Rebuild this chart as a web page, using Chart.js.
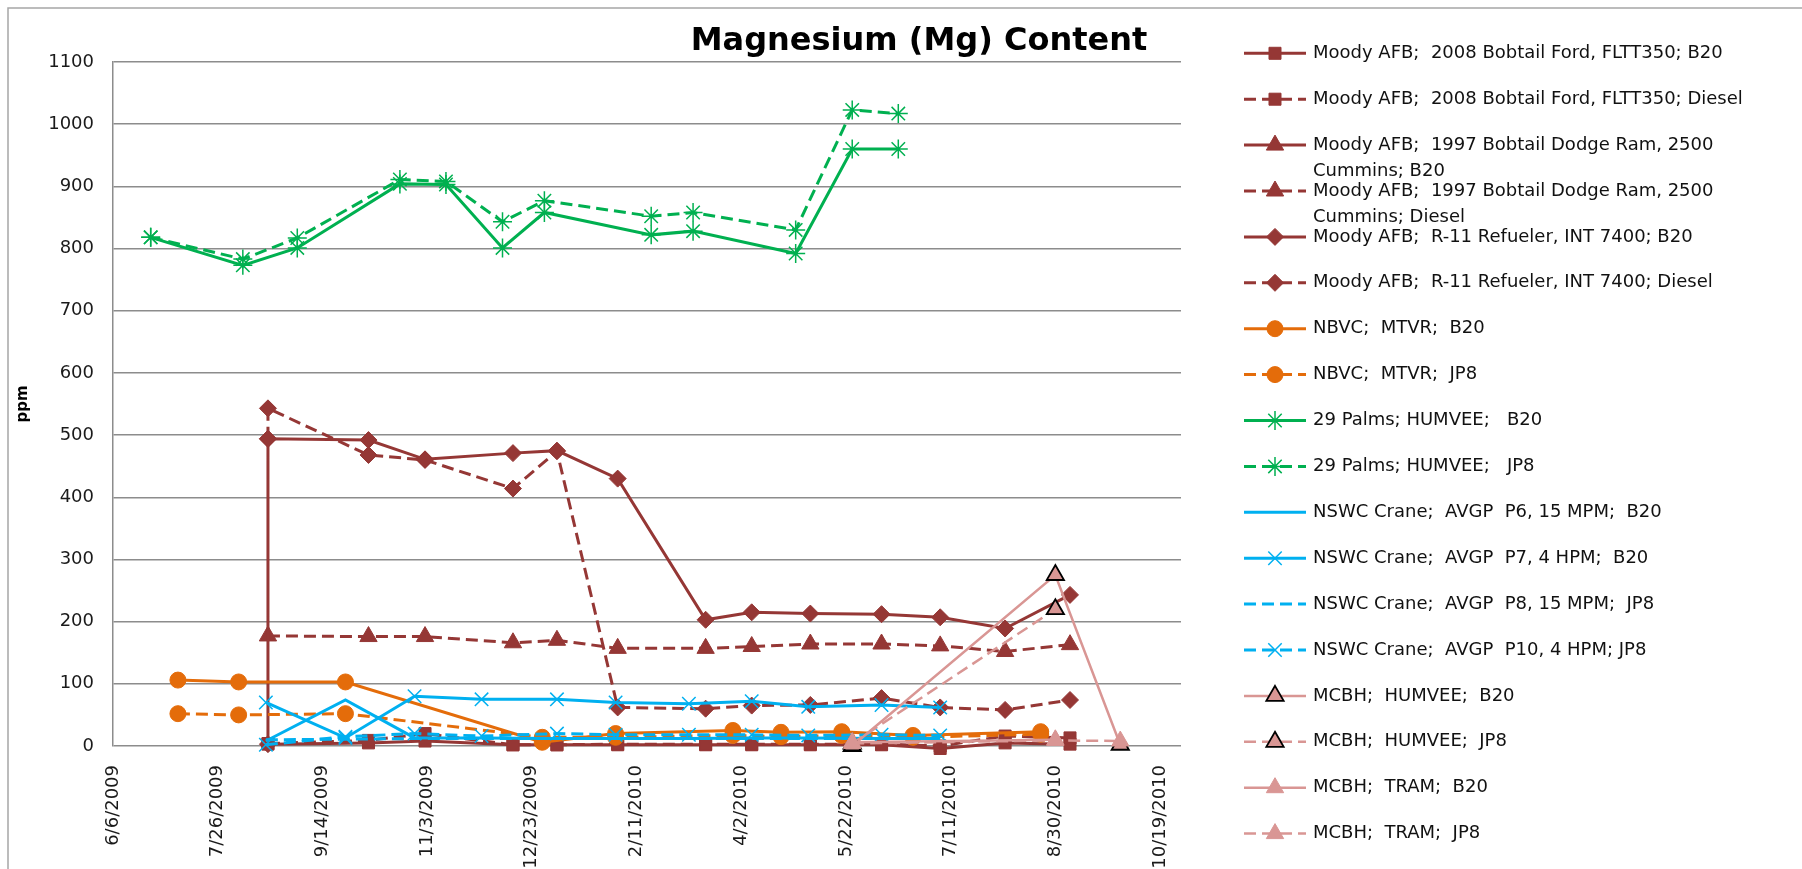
<!DOCTYPE html>
<html>
<head>
<meta charset="utf-8">
<title>Magnesium (Mg) Content</title>
<script src="https://cdn.jsdelivr.net/npm/chart.js"></script>
<style>
  html, body { margin: 0; padding: 0; background: #fff; }
  #chart { display: block; }
</style>
</head>
<body>
<canvas id="chart" width="1802" height="869"></canvas>
<script>
// Magnesium (Mg) content, ppm, by vehicle / fuel

const xTickLabels = ['6/6/2009', '7/26/2009', '9/14/2009', '11/3/2009', '12/23/2009', '2/11/2010',
    '4/2/2010', '5/22/2010', '7/11/2010', '8/30/2010', '10/19/2010'];
const xAxisEnd = '10/29/2010';

// Moody AFB sampling dates
const moodyDates = ['8/19/2009', '10/6/2009', '11/2/2009', '12/14/2009', '1/4/2010', '2/2/2010',
    '3/16/2010', '4/7/2010', '5/5/2010', '6/8/2010', '7/6/2010', '8/6/2010', '9/6/2010'];
const fordB20 = [3, 5, 8, 2, 2, 2, 2, 2, 2, 2, -4, 5, 3];
const fordDiesel = [4, 9, 20, 2, 2, 3, 3, 3, 3, 3, 0, 16, 13];
const dodgeB20 = [];
const dodgeDiesel = [177, 176, 176, 166, 170, 157, 157, 160, 164, 164, 161, 152, 163];
// R-11 rows have a repeated first date in the sheet
const r11Dates = ['8/19/2009'].concat(moodyDates);
const r11B20 = [3, 494, 492, 461, 471, 475, 430, 203, 215, 213, 212, 207, 189, 243];
const r11Diesel = [494, 543, 468, 460, 414, 474, 62, 60, 65, 66, 77, 62, 58, 74];

// NBVC
const nbvcDates = ['7/7/2009', '8/5/2009', '9/25/2009', '12/28/2009', '2/1/2010', '3/29/2010',
    '4/21/2010', '5/20/2010', '6/23/2010', '8/23/2010'];
const nbvcB20 = [106, 103, 103, 6, 20, 25, 22, 23, 17, 23];
const nbvcJP8 = [52, 50, 52, 14, 14, 17, 15, 17, 14, 19];

// 29 Palms
const palmsDates = ['6/24/2009', '8/7/2009', '9/2/2009', '10/21/2009', '11/12/2009', '12/9/2009',
    '12/29/2009', '2/18/2010', '3/10/2010', '4/28/2010', '5/25/2010', '6/16/2010'];
const palmsB20 = [818, 773, 801, 904, 903, 801, 858, 822, 828, 792, 960, 960];
const palmsJP8 = [818, 783, 817, 911, 908, 843, 877, 852, 858, 830, 1023, 1017];

// NSWC Crane
const craneDates = ['8/18/2009', '9/25/2009', '10/28/2009', '11/29/2009', '1/4/2010', '2/1/2010',
    '3/8/2010', '4/7/2010', '5/4/2010', '6/8/2010', '7/6/2010'];
const craneP6 = [8, 74, 13, 13, 12, 12, 12, 13, 13, 12, 12];
const craneP7 = [70, 13, 80, 75, 75, 70, 68, 72, 63, 66, 62];
const craneP8 = [10, 11, 12, 12, 12, 12, 12, 12, 12, 12, 12];
const craneP10 = [2, 15, 20, 16, 20, 18, 18, 18, 17, 18, 17];

// MCBH
const mcbhDates = ['5/25/2010', '8/30/2010', '9/30/2010'];
const humveeB20 = [0, 275, 2];
const humveeJP8 = [4, 220, null];
const tramB20 = [6, 10, null];
const tramJP8 = [4, 9, 8];

const legendLabels = [
    ['Moody AFB;  2008 Bobtail Ford, FLTT350; B20'],
    ['Moody AFB;  2008 Bobtail Ford, FLTT350; Diesel'],
    ['Moody AFB;  1997 Bobtail Dodge Ram, 2500', 'Cummins; B20'],
    ['Moody AFB;  1997 Bobtail Dodge Ram, 2500', 'Cummins; Diesel'],
    ['Moody AFB;  R-11 Refueler, INT 7400; B20'],
    ['Moody AFB;  R-11 Refueler, INT 7400; Diesel'],
    ['NBVC;  MTVR;  B20'],
    ['NBVC;  MTVR;  JP8'],
    ['29 Palms; HUMVEE;   B20'],
    ['29 Palms; HUMVEE;   JP8'],
    ['NSWC Crane;  AVGP  P6, 15 MPM;  B20'],
    ['NSWC Crane;  AVGP  P7, 4 HPM;  B20'],
    ['NSWC Crane;  AVGP  P8, 15 MPM;  JP8'],
    ['NSWC Crane;  AVGP  P10, 4 HPM; JP8'],
    ['MCBH;  HUMVEE;  B20'],
    ['MCBH;  HUMVEE;  JP8'],
    ['MCBH;  TRAM;  B20'],
    ['MCBH;  TRAM;  JP8'],
];

const moodyRed = '#953735';
const nbvcOrange = '#E46C0A';
const palmsGreen = '#00B050';
const craneBlue = '#00B0F0';
const mcbhPink = '#D99694';
const dash = [12, 6];
const FONT = "'DejaVu Sans', sans-serif";

const DAY0 = Date.UTC(2009, 5, 6);
function dayNum(s) {
    const [m, d, y] = s.split('/').map(Number);
    return (Date.UTC(y, m - 1, d) - DAY0) / 864e5;
}
function dayLabel(v) {
    const dt = new Date(DAY0 + v * 864e5);
    return `${dt.getUTCMonth() + 1}/${dt.getUTCDate()}/${dt.getUTCFullYear()}`;
}

function series(i, dates, values, color, style) {
    return Object.assign({
        label: legendLabels[i].join(' '),
        data: dates.map((d, k) => ({ x: dayNum(d), y: values[k] })),
        borderColor: color,
        borderWidth: 3,
        borderDash: [],
        pointBackgroundColor: color,
        pointBorderColor: color,
        pointBorderWidth: 1,
        pointRadius: 0,
        pointHoverRadius: 0,
        tension: 0,
        fill: false,
        clip: false,
        order: 20 - i,
    }, style);
}

const datasets = [
    series(0, moodyDates, fordB20, moodyRed, { pointStyle: 'rect', pointRadius: 8.5 }),
    series(1, moodyDates, fordDiesel, moodyRed, { pointStyle: 'rect', pointRadius: 8.5, borderDash: dash }),
    series(2, [], dodgeB20, moodyRed, { pointStyle: 'triangle', pointRadius: 10 }),
    series(3, moodyDates, dodgeDiesel, moodyRed, { pointStyle: 'triangle', pointRadius: 10, borderDash: dash }),
    series(4, r11Dates, r11B20, moodyRed, { pointStyle: 'rectRot', pointRadius: 8.5 }),
    series(5, r11Dates, r11Diesel, moodyRed, { pointStyle: 'rectRot', pointRadius: 8.5, borderDash: dash }),
    series(6, nbvcDates, nbvcB20, nbvcOrange, { pointStyle: 'circle', pointRadius: 8 }),
    series(7, nbvcDates, nbvcJP8, nbvcOrange, { pointStyle: 'circle', pointRadius: 8, borderDash: dash }),
    series(8, palmsDates, palmsB20, palmsGreen, { pointStyle: 'star', pointRadius: 9.5, pointBorderWidth: 1.5 }),
    series(9, palmsDates, palmsJP8, palmsGreen, { pointStyle: 'star', pointRadius: 9.5, pointBorderWidth: 1.5, borderDash: dash }),
    series(10, craneDates, craneP6, craneBlue, {}),
    series(11, craneDates, craneP7, craneBlue, { pointStyle: 'crossRot', pointRadius: 9.5, pointBorderWidth: 1.5 }),
    series(12, craneDates, craneP8, craneBlue, { borderDash: dash }),
    series(13, craneDates, craneP10, craneBlue, { pointStyle: 'crossRot', pointRadius: 9.5, pointBorderWidth: 1.5, borderDash: dash }),
    series(14, mcbhDates, humveeB20, mcbhPink, { borderWidth: 2.5, pointStyle: 'triangle', pointRadius: 10, pointBorderColor: '#000', pointBorderWidth: 1.8 }),
    series(15, mcbhDates, humveeJP8, mcbhPink, { borderWidth: 2.5, pointStyle: 'triangle', pointRadius: 10, pointBorderColor: '#000', pointBorderWidth: 1.8, borderDash: dash }),
    series(16, mcbhDates, tramB20, mcbhPink, { borderWidth: 2.5, pointStyle: 'triangle', pointRadius: 10 }),
    series(17, mcbhDates, tramJP8, mcbhPink, { borderWidth: 2.5, pointStyle: 'triangle', pointRadius: 10, borderDash: dash }),
];

// Excel-style frame, title and the side legend (wrapped entries)
const excelDecor = {
    id: 'excelDecor',
    beforeDraw(chart) {
        const ctx = chart.ctx;
        ctx.save();
        ctx.strokeStyle = '#a6a6a6';
        ctx.lineWidth = 1.5;
        ctx.beginPath();
        ctx.moveTo(8, chart.height);
        ctx.lineTo(8, 8);
        ctx.lineTo(chart.width, 8);
        ctx.stroke();
        ctx.restore();
    },
    afterDraw(chart) {
        const ctx = chart.ctx;
        const drawPoint = Chart.helpers && Chart.helpers.drawPoint;
        ctx.save();
        ctx.fillStyle = '#000';
        ctx.font = `bold 32px ${FONT}`;
        ctx.textAlign = 'center';
        ctx.textBaseline = 'alphabetic';
        ctx.fillText('Magnesium (Mg) Content', 919, 50);

        chart.data.datasets.forEach((ds, i) => {
            const y = 53.3 + i * 45.9;
            ctx.save();
            ctx.strokeStyle = ds.borderColor;
            ctx.lineWidth = ds.borderWidth;
            ctx.setLineDash(ds.borderDash);
            ctx.beginPath();
            ctx.moveTo(1244, y);
            ctx.lineTo(1306, y);
            ctx.stroke();
            ctx.setLineDash([]);
            if (ds.pointRadius > 0 && drawPoint) {
                ctx.fillStyle = ds.pointBackgroundColor;
                ctx.strokeStyle = ds.pointBorderColor;
                ctx.lineWidth = ds.pointBorderWidth;
                drawPoint(ctx, { pointStyle: ds.pointStyle, radius: ds.pointRadius, rotation: 0, borderWidth: ds.pointBorderWidth }, 1275, y);
            }
            ctx.restore();
            ctx.fillStyle = '#111';
            ctx.font = `18px ${FONT}`;
            ctx.textAlign = 'left';
            ctx.textBaseline = 'middle';
            legendLabels[i].forEach((t, k) => ctx.fillText(t, 1313, y + k * 26));
        });
        ctx.restore();
    }
};

Chart.defaults.font.family = FONT;

new Chart(document.getElementById('chart'), {
    type: 'line',
    data: { datasets },
    plugins: [excelDecor],
    options: {
        responsive: false,
        animation: false,
        devicePixelRatio: 1,
        layout: { padding: { left: 0, top: 62, right: 621, bottom: 0 } },
        plugins: {
            legend: { display: false },
            title: { display: false },
            tooltip: { enabled: false }
        },
        scales: {
            x: {
                type: 'linear',
                min: 0,
                max: dayNum(xAxisEnd),
                grid: { display: false, drawTicks: false },
                border: { display: false },
                afterBuildTicks: (axis) => {
                    axis.ticks = xTickLabels.map(s => ({ value: dayNum(s) }));
                },
                afterFit: (axis) => { axis.height = 123; },
                ticks: {
                    autoSkip: false,
                    minRotation: 90,
                    maxRotation: 90,
                    padding: 19,
                    color: '#1a1a1a',
                    font: { size: 18 },
                    callback: (v) => dayLabel(v)
                }
            },
            y: {
                min: 0,
                max: 1100,
                grid: { color: '#8c8c8c', lineWidth: 1.5, drawTicks: false },
                border: { color: '#8c8c8c', width: 1.5 },
                afterFit: (axis) => { axis.width = 113; },
                ticks: {
                    stepSize: 100,
                    padding: 19,
                    color: '#1a1a1a',
                    font: { size: 18 },
                    callback: (v) => String(v)
                },
                title: {
                    display: true,
                    text: 'ppm',
                    color: '#000',
                    font: { size: 15, weight: 'bold' },
                    padding: { top: 14, bottom: 0 }
                }
            }
        }
    }
});
</script>
</body>
</html>
